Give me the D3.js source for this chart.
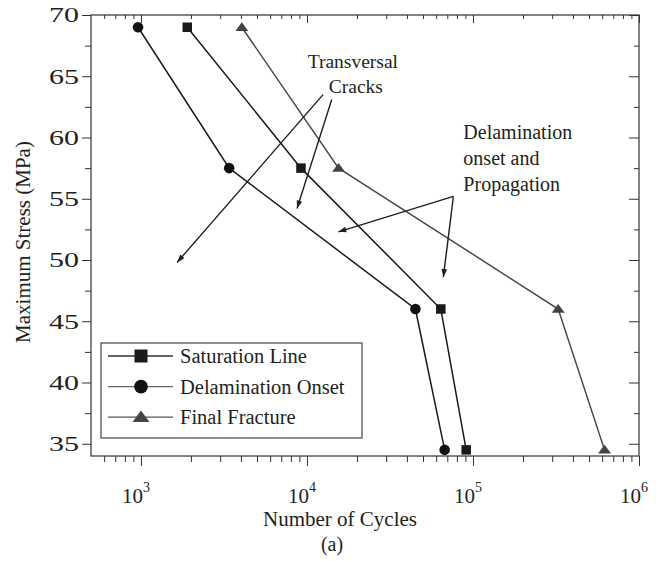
<!DOCTYPE html>
<html>
<head>
<meta charset="utf-8">
<script src="https://cdn.jsdelivr.net/npm/d3@7"></script>
<style>
  body { margin: 0; background: #fff; }
</style>
</head>
<body>
<script>
// series values
let stressLevels = [69, 57.5, 46, 34.5];
let saturationCycles = [1900, 9200, 64000, 91000];
let delaminationCycles = [960, 3400, 45000, 67500];
let fractureCycles = [4050, 15500, 326000, 620000];

let seriesNames = ["Saturation Line", "Delamination Onset", "Final Fracture"];
let yMajorTicks = [35, 40, 45, 50, 55, 60, 65, 70];
let yMinorTicks = [37.5, 42.5, 47.5, 52.5, 57.5, 62.5, 67.5];
let xDecades = [3, 4, 5, 6];

// annotation arrows, [cycles, stress] from -> to
let crackArrows = [
  [[12500, 63.5], [1650, 49.8]],
  [[14100, 63.1], [8710, 54.2]]
];
let delamArrows = [
  [[76200, 55.2], [15450, 52.3]],
  [[76200, 55.2], [66300, 48.6]]
];

let width = 656;
let height = 561;
let plotLeft = 91, plotRight = 639, plotTop = 15, plotBottom = 456;
let serif = "'Liberation Serif', Tinos, 'Times New Roman', 'DejaVu Serif', serif";
let ink = "#231f20";

let x = d3.scaleLog().domain([500, 1e6]).range([plotLeft, plotRight]);
let y = d3.scaleLinear().domain([34, 70]).range([plotBottom, plotTop]);

let svg = d3.select("body").append("svg")
  .attr("width", width)
  .attr("height", height)
  .attr("font-family", serif)
  .style("font-family", serif)
  .attr("fill", ink);

svg.append("defs").append("marker")
  .attr("id", "head")
  .attr("viewBox", "0 0 10 10")
  .attr("refX", 10).attr("refY", 5)
  .attr("markerWidth", 10).attr("markerHeight", 8)
  .attr("markerUnits", "userSpaceOnUse")
  .attr("orient", "auto")
  .append("path")
  .attr("d", "M0,1.5 L10,5 L0,8.5 Z")
  .attr("fill", ink);

// minor x ticks (2..9 per decade)
let xMinor = [];
[100, 1000, 10000, 100000].forEach(function(d) {
  for (let k = 2; k <= 9; k++) {
    let v = d * k;
    if (v > 500 && v < 1e6) xMinor.push(v);
  }
});
let xMajor = xDecades.map(function(e){ return Math.pow(10, e); });

function cleanAxis(g) {
  g.select(".domain").remove();
  g.selectAll(".tick line").attr("stroke", "#333").attr("stroke-width", 1);
}

// bottom
svg.append("g").attr("transform", "translate(0," + plotBottom + ")")
  .call(d3.axisBottom(x).tickValues(xMinor).tickSize(6).tickFormat(""))
  .call(cleanAxis);
svg.append("g").attr("transform", "translate(0," + plotBottom + ")")
  .call(d3.axisBottom(x).tickValues(xMajor).tickSize(10).tickFormat(""))
  .call(cleanAxis);
// top (inward)
svg.append("g").attr("transform", "translate(0," + plotTop + ")")
  .call(d3.axisTop(x).tickValues(xMinor).tickSize(-4).tickFormat(""))
  .call(cleanAxis);
svg.append("g").attr("transform", "translate(0," + plotTop + ")")
  .call(d3.axisTop(x).tickValues(xMajor).tickSize(-8).tickFormat(""))
  .call(cleanAxis);
// left
svg.append("g").attr("transform", "translate(" + plotLeft + ",0)")
  .call(d3.axisLeft(y).tickValues(yMajorTicks).tickSize(9).tickFormat(""))
  .call(cleanAxis);
svg.append("g").attr("transform", "translate(" + plotLeft + ",0)")
  .call(d3.axisLeft(y).tickValues(yMinorTicks).tickSize(6).tickFormat(""))
  .call(cleanAxis);
// right (inward)
svg.append("g").attr("transform", "translate(" + plotRight + ",0)")
  .call(d3.axisRight(y).tickValues(yMajorTicks).tickSize(-10).tickFormat(""))
  .call(cleanAxis);
svg.append("g").attr("transform", "translate(" + plotRight + ",0)")
  .call(d3.axisRight(y).tickValues(yMinorTicks).tickSize(-5).tickFormat(""))
  .call(cleanAxis);

// frame
svg.append("rect")
  .attr("x", plotLeft).attr("y", plotTop)
  .attr("width", plotRight - plotLeft).attr("height", plotBottom - plotTop)
  .attr("fill", "none").attr("stroke", "#333").attr("stroke-width", 1.2);

// y tick labels (wide digits in the original)
svg.selectAll(".ylab").data(yMajorTicks).enter().append("text")
  .attr("x", 79).attr("y", function(d){ return y(d); })
  .attr("dy", "0.34em")
  .attr("text-anchor", "end")
  .attr("font-size", 22)
  .attr("textLength", 30).attr("lengthAdjust", "spacingAndGlyphs")
  .text(function(d){ return d; });

// x tick labels 10^n
let xl = svg.selectAll(".xlab").data(xDecades).enter().append("text")
  .attr("x", function(d){ return x(Math.pow(10, d)) - 5; })
  .attr("y", 503)
  .attr("text-anchor", "middle")
  .attr("font-size", 21);
xl.append("tspan").text("10");
xl.append("tspan").attr("dy", -11).attr("font-size", 14).text(function(d){ return d; });

// axis titles
svg.append("text")
  .attr("transform", "translate(30,242) rotate(-90)")
  .attr("text-anchor", "middle")
  .attr("font-size", 21)
  .text("Maximum Stress (MPa)");
svg.append("text")
  .attr("x", 340).attr("y", 526)
  .attr("text-anchor", "middle")
  .attr("font-size", 21)
  .text("Number of Cycles");
svg.append("text")
  .attr("x", 332).attr("y", 551)
  .attr("text-anchor", "middle")
  .attr("font-size", 20)
  .text("(a)");

// series
let series = [
  { cycles: saturationCycles, line: "#1a1a1a", fill: "#1a1a1a", shape: "square" },
  { cycles: delaminationCycles, line: "#1a1a1a", fill: "#111", shape: "circle" },
  { cycles: fractureCycles, line: "#4a4a4a", fill: "#444", shape: "triangle" }
];

let line = d3.line()
  .x(function(d){ return x(d[0]); })
  .y(function(d){ return y(d[1]); });

function drawMarker(g, shape, cx, cy, s, fill) {
  if (shape === "square") {
    g.append("rect").attr("x", cx - s / 2).attr("y", cy - s / 2)
      .attr("width", s).attr("height", s).attr("fill", fill);
  } else if (shape === "circle") {
    g.append("circle").attr("cx", cx).attr("cy", cy).attr("r", s * 0.55).attr("fill", fill);
  } else {
    let h = s * 0.88;
    g.append("path")
      .attr("d", "M" + cx + "," + (cy - h * 0.58) + " L" + (cx + s * 0.65) + "," + (cy + h * 0.42) +
        " L" + (cx - s * 0.65) + "," + (cy + h * 0.42) + " Z")
      .attr("fill", fill);
  }
}

series.forEach(function(s) {
  let pts = s.cycles.map(function(c, i){ return [c, stressLevels[i]]; });
  svg.append("path").datum(pts)
    .attr("d", line)
    .attr("fill", "none")
    .attr("stroke", s.line)
    .attr("stroke-width", 1.5);
  let g = svg.append("g");
  pts.forEach(function(p) {
    drawMarker(g, s.shape, x(p[0]), y(p[1]), s.shape === "triangle" ? 10 : (s.shape === "circle" ? 9.6 : 9.5), s.fill);
  });
});

// legend
let lg = svg.append("g");
lg.append("rect")
  .attr("x", 101).attr("y", 343).attr("width", 261).attr("height", 95)
  .attr("fill", "#fff").attr("stroke", "#444").attr("stroke-width", 1.2);
let legendLine = ["#333", "#666", "#555"];
seriesNames.forEach(function(name, i) {
  let ly = 356 + i * 30.6;
  lg.append("line").attr("x1", 108).attr("x2", 173).attr("y1", ly).attr("y2", ly)
    .attr("stroke", legendLine[i]).attr("stroke-width", 1.3);
  let s = series[i];
  drawMarker(lg, s.shape, 141, ly, s.shape === "triangle" ? 13 : (s.shape === "circle" ? 12.5 : 13), s.fill);
  lg.append("text").attr("x", 180).attr("y", ly).attr("dy", "0.35em")
    .attr("font-size", 20.5).text(name);
});

// annotations
function arrows(list) {
  list.forEach(function(a) {
    svg.append("line")
      .attr("x1", x(a[0][0])).attr("y1", y(a[0][1]))
      .attr("x2", x(a[1][0])).attr("y2", y(a[1][1]))
      .attr("stroke", ink).attr("stroke-width", 1.4)
      .attr("marker-end", "url(#head)");
  });
}
arrows(crackArrows);
arrows(delamArrows);

svg.append("text").attr("x", x(18900)).attr("y", y(65.67))
  .attr("text-anchor", "middle").attr("font-size", 19.5).text("Transversal");
svg.append("text").attr("x", x(19700)).attr("y", y(63.6))
  .attr("text-anchor", "middle").attr("font-size", 19.5).text("Cracks");
["Delamination", "onset and", "Propagation"].forEach(function(t, i) {
  svg.append("text").attr("x", x(87500)).attr("y", y(59.84 - i * 2.1))
    .attr("font-size", 20).text(t);
});
</script>
</body>
</html>
